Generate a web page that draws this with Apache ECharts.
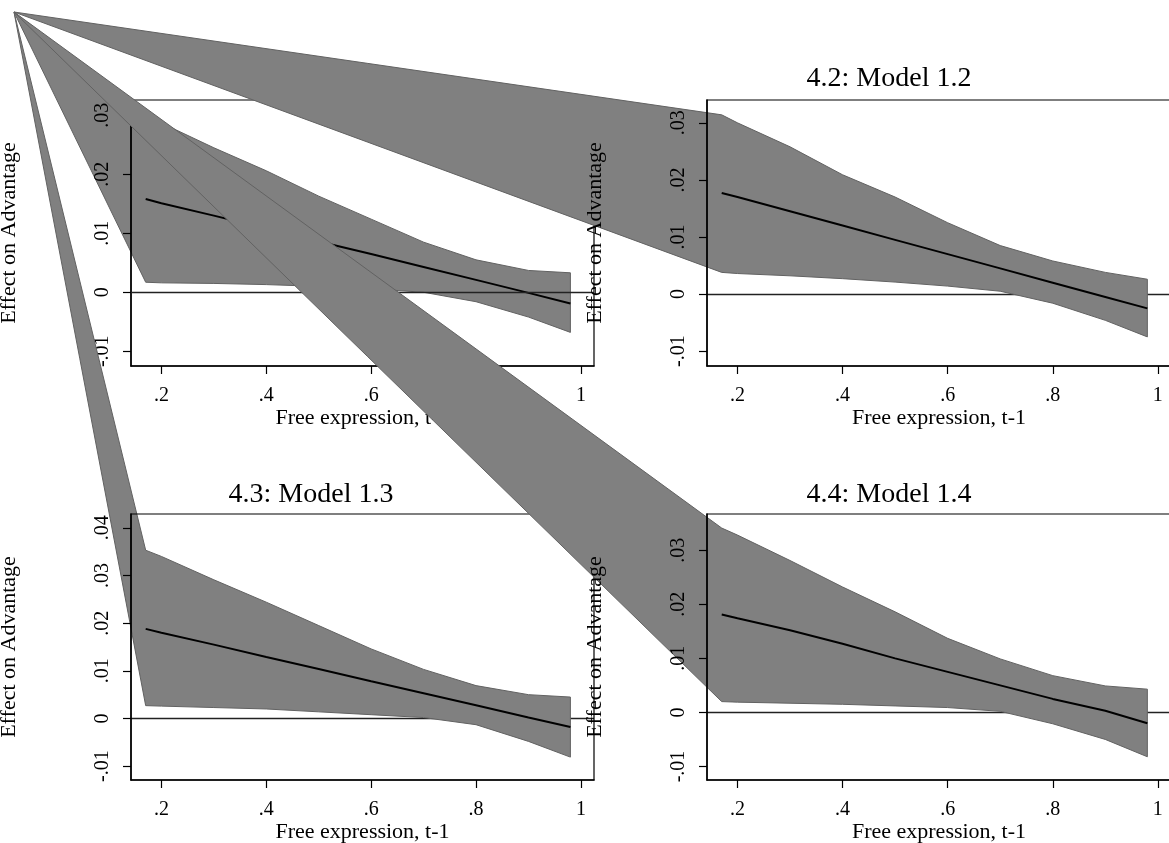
<!DOCTYPE html>
<html>
<head>
<meta charset="utf-8">
<script src="https://cdn.jsdelivr.net/npm/echarts@6/dist/echarts.min.js"></script>
<style>
  html, body { margin: 0; padding: 0; background: #fff; }
  #chart { width: 1169px; height: 843px; }
</style>
</head>
<body>
<div id="chart"></div>
<script>
// free expression (t-1) values at which the effect was evaluated
const freeExpr = [0.17, 0.2, 0.3, 0.4, 0.5, 0.6, 0.7, 0.8, 0.9, 0.98];

// 4.1: Model 1.1
const fit11 = [0.0158, 0.0151, 0.0130, 0.0108, 0.0086, 0.0065, 0.0043, 0.0021, -0.0001, -0.0019];
const upper11 = [0.0300, 0.0287, 0.0245, 0.0206, 0.0163, 0.0124, 0.0085, 0.0055, 0.0037, 0.0033];
const lower11 = [0.0017, 0.0016, 0.0015, 0.0013, 0.0010, 0.0006, 0.0000, -0.0016, -0.0042, -0.0068];

// 4.2: Model 1.2
const fit12 = [0.0177, 0.0170, 0.0145, 0.0120, 0.0095, 0.0070, 0.0045, 0.0020, -0.0005, -0.0025];
const upper12 = [0.0314, 0.0300, 0.0258, 0.0209, 0.0170, 0.0125, 0.0085, 0.0058, 0.0038, 0.0026];
const lower12 = [0.0038, 0.0036, 0.0032, 0.0027, 0.0021, 0.0014, 0.0005, -0.0016, -0.0046, -0.0075];

// 4.3: Model 1.3
const fit13 = [0.0188, 0.0180, 0.0155, 0.0129, 0.0104, 0.0078, 0.0053, 0.0028, 0.0002, -0.0018];
const upper13 = [0.0353, 0.0340, 0.0291, 0.0244, 0.0195, 0.0146, 0.0103, 0.0069, 0.0050, 0.0045];
const lower13 = [0.0027, 0.0026, 0.0023, 0.0020, 0.0014, 0.0008, 0.0002, -0.0013, -0.0048, -0.0081];

// 4.4: Model 1.4
const fit14 = [0.0181, 0.0174, 0.0152, 0.0127, 0.0100, 0.0075, 0.0050, 0.0025, 0.0003, -0.0020];
const upper14 = [0.0341, 0.0328, 0.0281, 0.0232, 0.0186, 0.0137, 0.0099, 0.0068, 0.0049, 0.0043];
const lower14 = [0.0020, 0.0019, 0.0017, 0.0015, 0.0012, 0.0009, 0.0002, -0.0021, -0.0050, -0.0082];

const xTicks = [0.2, 0.4, 0.6, 0.8, 1];
const yTicks = [-0.01, 0, 0.01, 0.02, 0.03];
const yTicks13 = [-0.01, 0, 0.01, 0.02, 0.03, 0.04];

const titles = ['4.1: Model 1.1', '4.2: Model 1.2', '4.3: Model 1.3', '4.4: Model 1.4'];
const xName = 'Free expression, t-1';
const yName = 'Effect on Advantage';

// the source file's band polygons all start from the page corner
const STRAY_ANCHOR = [14, 12];

const FONT = 'Liberation Serif';

const panels = [
  { fit: fit11, upper: upper11, lower: lower11, yTicks: yTicks, yMin: -0.0125, yMax: 0.0326,
    box: { left: 131, top: 100, width: 463, height: 266 }, titleX: 311, titleY: 65, yGap: 111 },
  { fit: fit12, upper: upper12, lower: lower12, yTicks: yTicks, yMin: -0.0126, yMax: 0.0340,
    box: { left: 707, top: 100, width: 464, height: 266 }, titleX: 889, titleY: 65, yGap: 101 },
  { fit: fit13, upper: upper13, lower: lower13, yTicks: yTicks13, yMin: -0.0129, yMax: 0.0429,
    box: { left: 131, top: 514, width: 463, height: 266 }, titleX: 311, titleY: 481, yGap: 111 },
  { fit: fit14, upper: upper14, lower: lower14, yTicks: yTicks, yMin: -0.0125, yMax: 0.0367,
    box: { left: 707, top: 514, width: 464, height: 266 }, titleX: 889, titleY: 481, yGap: 101 },
];

function stataNum(v) {
  // .2 instead of 0.2, -.01 instead of -0.01
  return String(+v.toFixed(4)).replace(/^(-?)0\./, '$1.');
}

const textBase = { fontFamily: FONT, color: '#000' };

const grid = [], xAxis = [], yAxis = [], series = [], title = [];

panels.forEach((p, k) => {
  const zTop = 10 * k + 3;

  grid.push({
    ...p.box,
    outerBoundsMode: 'none',
    containLabel: false,
    show: true,
    borderColor: '#000',
    borderWidth: 1.2,
    backgroundColor: 'transparent',
    z: zTop,
  });

  title.push({
    text: titles[k],
    left: p.titleX,
    top: p.titleY,
    textAlign: 'center',
    padding: 0,
    z: zTop,
    textStyle: { ...textBase, fontSize: 28, fontWeight: 'normal' },
  });

  xAxis.push({
    type: 'value',
    gridIndex: k,
    min: 0.142,
    max: 1.025,
    z: zTop,
    splitLine: { show: false },
    axisLine: { onZero: false, lineStyle: { color: '#000', width: 1.5 } },
    axisTick: { customValues: xTicks, length: 8, lineStyle: { color: '#000', width: 1.2 } },
    axisLabel: { customValues: xTicks, formatter: stataNum, margin: 20, ...textBase, fontSize: 20 },
    name: xName,
    nameLocation: 'middle',
    nameGap: 40,
    nameTextStyle: { ...textBase, fontSize: 22 },
  });

  yAxis.push({
    type: 'value',
    gridIndex: k,
    min: p.yMin,
    max: p.yMax,
    z: zTop,
    splitLine: { show: false },
    axisLine: { onZero: false, lineStyle: { color: '#000', width: 1.5 } },
    axisTick: { customValues: p.yTicks, length: 8, lineStyle: { color: '#000', width: 1.2 } },
    axisLabel: { customValues: p.yTicks, formatter: stataNum, rotate: 90, margin: 18, ...textBase, fontSize: 20 },
    name: yName,
    nameLocation: 'middle',
    nameGap: p.yGap,
    nameTextStyle: { ...textBase, fontSize: 22 },
  });

  // confidence band, drawn as one polygon the way the source file has it
  series.push({
    type: 'custom',
    xAxisIndex: k,
    yAxisIndex: k,
    z: 10 * k + 1,
    clip: false,
    silent: true,
    data: freeExpr.map((x, i) => [x, p.upper[i], p.lower[i]]),
    renderItem(params, api) {
      if (params.dataIndex !== 0) return null;
      const pts = [STRAY_ANCHOR];
      freeExpr.forEach((x, i) => pts.push(api.coord([x, p.upper[i]])));
      for (let i = freeExpr.length - 1; i >= 0; i--) pts.push(api.coord([freeExpr[i], p.lower[i]]));
      return {
        type: 'polygon',
        shape: { points: pts },
        style: { fill: '#808080', stroke: '#626262', lineWidth: 1 },
      };
    },
  });

  series.push({
    type: 'line',
    xAxisIndex: k,
    yAxisIndex: k,
    z: 10 * k + 2,
    data: freeExpr.map((x, i) => [x, p.fit[i]]),
    showSymbol: false,
    symbol: 'none',
    silent: true,
    lineStyle: { color: '#000', width: 2 },
    markLine: {
      silent: true,
      symbol: 'none',
      label: { show: false },
      lineStyle: { color: '#222', width: 1.4, type: 'solid' },
      data: [{ yAxis: 0 }],
    },
  });
});

const chart = echarts.init(document.getElementById('chart'));
chart.setOption({
  animation: false,
  backgroundColor: '#fff',
  title,
  grid,
  xAxis,
  yAxis,
  series,
});
</script>
</body>
</html>
